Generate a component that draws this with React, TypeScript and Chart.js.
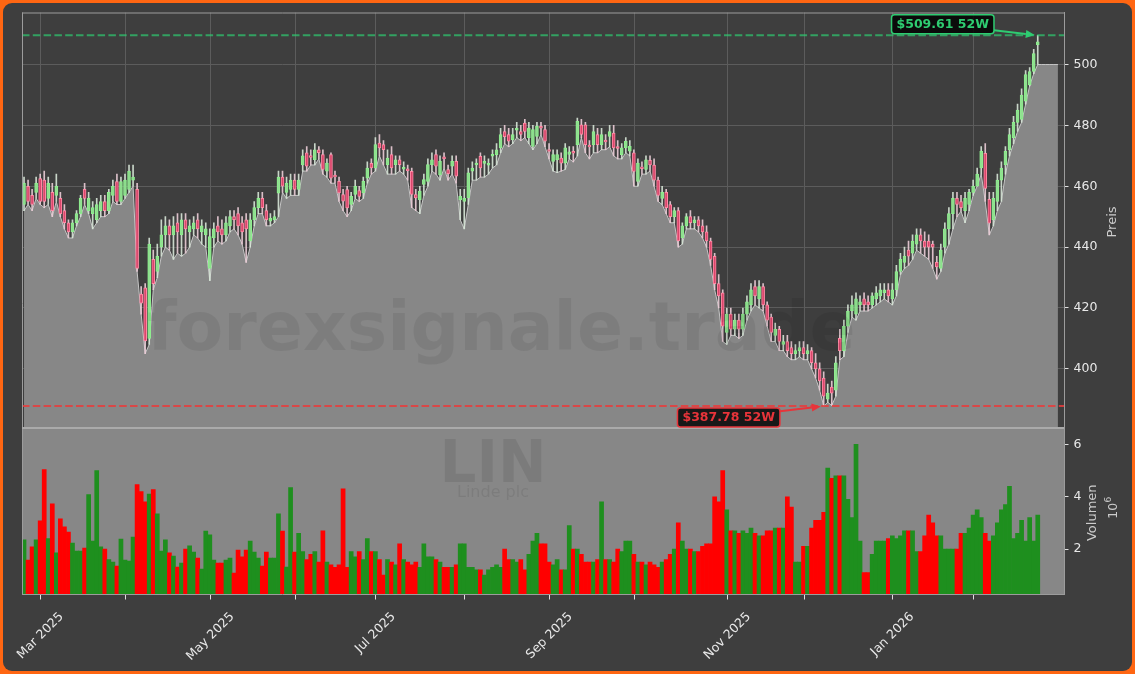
import React, { useEffect, useRef } from 'react';
import { Chart, registerables } from 'chart.js';

Chart.register(...registerables);

// ---------------- data ----------------
const START_DATE = '2025-02-25';
const HOLIDAYS = ['2025-04-18', '2025-05-26', '2025-06-19', '2025-07-04', '2025-09-01', '2025-11-27', '2025-12-25', '2026-01-01', '2026-01-19', '2026-02-16'];
const EXTRA_SLOTS = 6;
const FILL_TAIL_SLOTS = 5;
const FILL_TAIL_LEVEL = 500;
const MONTHS = ['Jan', 'Feb', 'Mar', 'Apr', 'May', 'Jun', 'Jul', 'Aug', 'Sep', 'Oct', 'Nov', 'Dec'];

const opens = [
  454, 460, 457, 458, 462.5, 462, 456, 458, 457, 456,
  452, 448, 445, 448, 451, 459, 452, 451, 449, 452,
  455, 452, 457, 461.5, 455, 457, 459, 462, 459, 424.6,
  426.6, 410, 436, 432, 440, 444, 447, 444, 448, 444,
  449, 445, 446, 449, 445, 444, 433, 443, 447, 446,
  444, 447, 450, 451, 448, 449, 442, 449, 453, 456,
  452, 448.5, 449, 457.7, 463, 458, 459, 462, 459, 467,
  471, 470, 468.7, 472, 470.4, 465, 470.4, 463.5, 461.6, 457.3,
  458.9, 454, 457.3, 458.6, 457.8, 462.7, 467.5, 466, 474.2, 473.7,
  467.1, 470.4, 467.1, 468.7, 465.8, 465.5, 464.9, 457.3, 455.6, 460.6,
  461.6, 467.1, 470.4, 463.8, 469.5, 465.5, 466.6, 468.2, 455.6, 455,
  456.2, 465, 467, 469.8, 467.5, 467, 470, 470.4, 472.6, 478,
  477, 475.3, 478.5, 478, 480.8, 476, 473.1, 476.4, 479.7, 478.6,
  472, 468.2, 468.7, 469.3, 467.6, 470.5, 471.3, 473.7, 480.2, 480.2,
  473.4, 473.7, 477, 473.7, 474.9, 476.4, 477.5, 472.9, 470.4, 472.6,
  471.5, 471, 461.6, 466.2, 465.5, 468.5, 467, 462, 456, 458,
  454, 450, 452, 443, 447, 450, 448, 449, 447, 445,
  442, 437, 428, 425, 412, 418, 413, 416, 413, 418,
  421, 427, 423, 427, 421, 417, 411, 413, 408, 409,
  407, 405, 406, 407, 405, 406, 402, 400, 397, 390,
  394, 393, 410, 406, 414, 419, 418, 421, 423, 422,
  421, 423, 424, 425, 426, 423, 426, 432, 435, 439,
  438, 441, 444, 442, 442, 441, 435, 433, 440, 446,
  451, 456, 455, 452, 454, 458, 460, 466, 470.8, 455.7,
  449, 455, 462, 467, 472, 476, 481, 482, 488, 493.4,
  497.7, 506.5,
];

const highs = [
  463, 462, 459, 463, 464, 465, 463, 461, 464, 458,
  454, 449, 449, 452, 457, 461, 458, 455, 456, 457,
  457, 459, 462, 464, 463, 464, 467, 467, 461, 427,
  428, 443, 439, 441, 449, 450, 449, 450, 451, 451,
  451, 449, 450, 451, 449, 448, 446, 448, 450, 449,
  450, 452, 452, 453, 450, 451, 451, 455, 458, 458,
  454, 451, 452, 465, 465, 463, 464, 464, 464, 472,
  473, 472, 474, 473, 472, 469, 471, 465, 463, 459,
  460, 458, 462, 460, 463, 468, 469, 476, 477, 475,
  472, 473, 470, 470, 468, 467, 466, 459, 460, 464,
  469, 471, 472, 470, 471, 467, 470, 470, 459, 459,
  466, 468, 469, 471, 470, 469, 472, 474, 479, 480,
  479, 479, 481, 480, 482, 481, 480, 481, 481, 480,
  474, 472, 472, 471, 474, 473, 473, 482.4, 482, 481,
  475, 480, 479, 479, 477, 480, 480, 475, 474, 476,
  475, 472, 469, 468, 470, 470, 469, 463, 460, 459,
  455, 453, 453, 448, 451, 452, 450, 450, 449, 447,
  443, 438, 431, 426, 420, 420, 418, 418, 420, 424,
  428, 429, 429, 428, 422, 418, 415, 414, 411, 411,
  409, 408, 409, 409, 408, 407, 405, 402, 399, 395,
  396, 404, 413, 416, 421, 424, 425, 424, 425, 424,
  425, 427, 428, 428, 428, 428, 434, 438, 440, 442,
  444, 446, 446, 445, 444, 442, 437, 441, 448, 453,
  458, 458, 457, 458, 459, 462, 466, 473, 474, 458,
  458, 464, 468, 473, 479, 483, 487, 492, 498, 499,
  505, 509.61,
];

const lows = [
  452, 454, 452, 456, 454, 453, 454, 450, 455, 450,
  446, 443, 443, 447, 450, 454, 451, 446, 448, 450,
  450, 451, 455, 454, 454, 456, 458, 460, 432, 418,
  405, 408, 426, 430, 437, 440, 439, 436, 438, 437,
  438, 440, 444, 443, 441, 440, 429, 440, 442, 441,
  442, 445, 446, 444, 441, 435, 440, 447, 451, 451,
  447, 447, 448, 450, 458, 456, 457, 457, 457, 465,
  465, 467, 467, 469, 464, 463, 461, 461, 455, 452,
  450, 452, 456, 455, 456, 461, 464, 465, 470, 467,
  464, 464, 464, 465, 464, 462, 453, 452, 451, 457,
  460, 465, 464, 462, 466, 462, 464, 461, 449, 446,
  454, 462, 462, 463, 463, 464, 466, 467, 471, 474,
  473, 474, 476, 475, 476, 474, 472, 474, 477, 473,
  469, 465, 464.5, 465, 465.5, 469, 468, 470, 476, 471,
  469, 471, 471, 472, 472, 473, 470, 469, 469, 471,
  470, 460, 460, 464, 464, 465, 460, 455, 454, 451,
  448, 448, 440, 441, 446, 446, 446, 445, 443, 440,
  434, 426, 420, 409, 408, 411, 411, 410, 411, 416,
  419, 421, 420, 419, 414, 409, 409, 406, 406, 404,
  403, 403, 404, 403, 403, 400, 397, 393, 387.78, 389,
  388, 391, 403, 404, 412, 417, 416, 419, 419, 419,
  420, 421, 422, 423, 422, 421, 424, 431, 433, 434,
  436, 439, 438, 437, 436, 433, 429.5, 432, 438, 441,
  446, 450, 451.8, 448, 452, 457, 460, 464, 455, 444,
  447, 452, 455, 464, 470, 474, 478, 481, 487, 493,
  497, 500,
];

const closes = [
  461, 455, 454, 461, 455, 455, 461, 452, 460, 451,
  448, 445, 448, 451, 456, 456, 456, 453, 454, 455,
  452, 458, 460, 455, 461.5, 462, 465, 463, 433, 421.6,
  409.2, 441, 428, 437, 444, 447, 444, 447, 445, 449,
  446, 447, 448, 446, 447, 446, 443.5, 446, 445, 444,
  448, 450, 449, 447, 445, 446, 449, 453, 456, 453,
  449, 449.5, 450, 463, 460, 461, 462, 459, 462, 470,
  466.6, 469.5, 472, 471, 465.5, 467.6, 462.7, 463.2, 457.8, 455.1,
  452.9, 456.7, 460, 456.7, 461.6, 466, 466, 473.7, 472.6, 472,
  469.3, 466, 468.7, 467.1, 466, 465.3, 457.3, 456.2, 458.4, 462.2,
  467.1, 468.7, 466.6, 468.2, 469.2, 464.1, 468.2, 463.3, 456.7, 456,
  464.4, 466, 467.6, 466, 468.2, 467.5, 470.4, 472, 477, 476.3,
  474.8, 477, 479, 477, 478, 479.1, 478.6, 479.7, 479.1, 474.8,
  471.5, 470.4, 470.4, 467.6, 472.6, 471.3, 471, 481.3, 477, 473.7,
  473, 478, 473.7, 477, 474.8, 478, 472.6, 472.6, 472.6, 474.8,
  473.1, 464.9, 467.6, 466, 468.7, 467, 462, 457, 458, 453,
  450, 452, 442, 447, 450, 448, 449, 447, 445, 442,
  436, 428, 424, 414, 418, 413, 416, 413, 418, 422,
  426, 424, 427, 421, 416, 412, 413, 409, 409, 406,
  405, 406, 407, 405, 406, 402, 400, 396, 391, 392,
  392, 402, 406, 414, 419, 421, 423, 422, 421, 421,
  424, 425, 426, 426, 424, 426, 432, 436, 437, 437,
  442, 444, 442, 440, 440, 440, 433.5, 439, 446, 451,
  456, 454, 453, 456, 458, 460, 464, 471.5, 459.3, 447.9,
  456, 462, 466, 471.5, 477, 481, 485, 490, 496.7, 497.7,
  503.6, 507.5,
];

// volume in millions of shares
const volumes = [
  2.35, 1.58, 2.08, 2.35, 3.08, 5.04, 2.4, 3.73, 1.85, 3.15,
  2.85, 2.65, 2.23, 1.92, 1.92, 2.04, 4.08, 2.3, 5.0, 2.08,
  2.0, 1.6, 1.5, 1.35, 2.38, 1.58, 1.54, 2.46, 4.46, 4.2,
  3.8, 4.1, 4.27, 3.35, 1.92, 2.35, 1.85, 1.73, 1.31, 1.46,
  2.0, 2.12, 1.88, 1.65, 1.23, 2.69, 2.54, 1.58, 1.46, 1.46,
  1.58, 1.65, 1.08, 1.96, 1.7, 1.96, 2.3, 1.88, 1.65, 1.35,
  1.88, 1.65, 1.65, 3.35, 2.69, 1.31, 4.35, 1.88, 2.6, 1.9,
  1.6, 1.8, 1.9, 1.5, 2.7, 1.5, 1.4, 1.3, 1.4, 4.3,
  1.3, 1.9, 1.7, 1.9, 1.6, 2.4, 1.9, 1.9, 1.6, 1.0,
  1.6, 1.5, 1.4, 2.2, 1.6, 1.5, 1.4, 1.5, 1.3, 2.2,
  1.7, 1.7, 1.6, 1.5, 1.3, 1.3, 1.3, 1.4, 2.2, 2.2,
  1.3, 1.3, 1.2, 1.2, 1.0, 1.2, 1.3, 1.4, 1.3, 2.0,
  1.6, 1.6, 1.5, 1.6, 1.2, 1.8, 2.3, 2.6, 2.2, 2.2,
  1.5, 1.4, 1.6, 1.2, 1.2, 2.9, 2.0, 2.0, 1.8, 1.5,
  1.5, 1.5, 1.6, 3.8, 1.6, 1.6, 1.5, 2.0, 1.9, 2.3,
  2.3, 1.8, 1.5, 1.5, 1.4, 1.5, 1.4, 1.3, 1.5, 1.6,
  1.8, 2.0, 3.0, 2.3, 2.0, 2.0, 1.9, 1.9, 2.1, 2.2,
  2.2, 4.0, 3.8, 5.0, 3.5, 2.7, 2.7, 2.6, 2.7, 2.6,
  2.8, 2.6, 2.5, 2.5, 2.7, 2.7, 2.8, 2.8, 2.8, 4.0,
  3.6, 1.5, 1.5, 2.1, 2.1, 2.8, 3.1, 3.1, 3.4, 5.1,
  4.7, 4.8, 4.8, 4.8, 3.9, 3.2, 6.0, 2.3, 1.1, 1.1,
  1.8, 2.3, 2.3, 2.3, 2.4, 2.5, 2.4, 2.5, 2.7, 2.7,
  2.7, 1.9, 1.9, 2.5, 3.3, 3.0, 2.5, 2.5, 2.0, 2.0,
  2.0, 2.0, 2.6, 2.6, 2.8, 3.3, 3.5, 3.2, 2.6, 2.3,
  2.5, 3.0, 3.5, 3.7, 4.4, 2.4, 2.6, 3.1, 2.3, 3.2,
  2.3, 3.3,
];

const PRICE_TICKS = [400, 420, 440, 460, 480, 500];
const VOLUME_TICKS = [2, 4, 6];
const PRICE_MIN = 380.75;
const PRICE_MAX = 517.1;
const VOL_MIN = 0.28;
const VOL_MAX = 6.65;
const HIGH_52W = 509.61;
const LOW_52W = 387.78;
const HIGH_LABEL = '$509.61 52W';
const LOW_LABEL = '$387.78 52W';
const TICKER = 'LIN';
const COMPANY = 'Linde plc';
const WATERMARK = 'forexsignale.trade';
const PRICE_TITLE = 'Preis';
const VOLUME_TITLE = 'Volumen';

// ---------------- styles ----------------
const FONT = '"DejaVu Sans", "Liberation Sans", sans-serif';
const BG = '#3e3e3e';
const FRAME = '#ff6612';
const FILL_GRAY = '#878787';
const GRID = '#5c5c5c';
const SPINE = '#9c9c9c';
const TICK_TEXT = '#e8e8e8';
const UP_VOL = '#1e8f1e';
const DOWN_VOL = '#ff0000';

function tradingDays(start: string, count: number, holidays: string[]): Date[] {
  const [y, m, d] = start.split('-').map(Number);
  const out: Date[] = [];
  let t = Date.UTC(y, m - 1, d);
  while (out.length < count) {
    const dt = new Date(t);
    const wd = dt.getUTCDay();
    const iso = dt.toISOString().slice(0, 10);
    if (wd !== 0 && wd !== 6 && !holidays.includes(iso)) out.push(dt);
    t += 86400000;
  }
  return out;
}

export default function App() {
  const ref = useRef<HTMLCanvasElement>(null);

  useEffect(() => {
    document.body.style.margin = '0';
    document.body.style.background = BG;
    const canvas = ref.current;
    if (!canvas) return;

    const n = closes.length;
    const dates = tradingDays(START_DATE, n + EXTRA_SLOTS, HOLIDAYS);
    const labels = dates.map((d) => d.toISOString().slice(0, 10));

    const monthTicks: { index: number; label: string }[] = [];
    for (let i = 1; i < n; i++) {
      const m = dates[i].getUTCMonth();
      if (m !== dates[i - 1].getUTCMonth()) {
        monthTicks.push({ index: i, label: m % 2 === 0 ? `${MONTHS[m]} ${dates[i].getUTCFullYear()}` : '' });
      }
    }

    const fillData: (number | null)[] = labels.map((_, i) => {
      if (i < n) return lows[i];
      if (i < n + FILL_TAIL_SLOTS) return FILL_TAIL_LEVEL;
      return null;
    });
    const wickData = labels.map((_, i) => (i < n ? [lows[i], highs[i]] : null));
    const bodyData = labels.map((_, i) => {
      if (i >= n) return null;
      const o = opens[i], c = closes[i];
      if (Math.abs(o - c) < 0.6) {
        const mid = (o + c) / 2;
        return [mid - 0.3, mid + 0.3];
      }
      return [o, c];
    });
    const isUp = labels.map((_, i) => (i < n ? closes[i] >= opens[i] : true));
    const volData = labels.map((_, i) => (i < n ? volumes[i] : null));

    const hiIdx = highs.indexOf(Math.max(...highs));
    const loIdx = lows.indexOf(Math.min(...lows));

    const drawText = (ctx: CanvasRenderingContext2D, text: string, x: number, y: number, font: string, color: string, align: CanvasTextAlign = 'center', base: CanvasTextBaseline = 'middle') => {
      ctx.font = font;
      ctx.fillStyle = color;
      ctx.textAlign = align;
      ctx.textBaseline = base;
      ctx.fillText(text, x, y);
    };

    const drawAnnotation = (ctx: CanvasRenderingContext2D, text: string, tx: number, ty: number, dx: number, dy: number, color: string) => {
      ctx.save();
      ctx.font = `bold 12.5px ${FONT}`;
      const tw = ctx.measureText(text).width;
      const cx = tx + dx, cy = ty + dy;
      const hw = tw / 2 + 5, hh = 9.5;
      const vx = tx - cx, vy = ty - cy;
      const t = Math.min(hw / Math.abs(vx || 1e-6), hh / Math.abs(vy || 1e-6));
      const sx = cx + vx * t, sy = cy + vy * t;
      const len = Math.hypot(tx - sx, ty - sy);
      const ux = (tx - sx) / len, uy = (ty - sy) / len;
      const ex = tx - ux * 3, ey = ty - uy * 3;
      const headLen = 9, headW = 4;
      ctx.strokeStyle = color;
      ctx.fillStyle = color;
      ctx.lineWidth = 2;
      ctx.beginPath();
      ctx.moveTo(sx, sy);
      ctx.lineTo(ex - ux * headLen, ey - uy * headLen);
      ctx.stroke();
      ctx.beginPath();
      ctx.moveTo(ex, ey);
      ctx.lineTo(ex - ux * headLen - uy * headW, ey - uy * headLen + ux * headW);
      ctx.lineTo(ex - ux * headLen + uy * headW, ey - uy * headLen - ux * headW);
      ctx.closePath();
      ctx.fill();
      ctx.beginPath();
      (ctx as any).roundRect(cx - hw, cy - hh, hw * 2, hh * 2, 3);
      ctx.fillStyle = 'rgba(0,0,0,0.82)';
      ctx.fill();
      ctx.lineWidth = 1.5;
      ctx.strokeStyle = color;
      ctx.stroke();
      drawText(ctx, text, cx, cy + 0.5, `bold 12.5px ${FONT}`, color);
      ctx.restore();
    };

    const decor = {
      id: 'decor',
      beforeDraw(c: any) {
        const ctx: CanvasRenderingContext2D = c.ctx;
        ctx.save();
        ctx.fillStyle = FRAME;
        ctx.fillRect(0, 0, c.width, c.height);
        ctx.fillStyle = BG;
        ctx.beginPath();
        (ctx as any).roundRect(3, 3, c.width - 6, c.height - 6, 9);
        ctx.fill();
        ctx.restore();
      },
      beforeDatasetsDraw(c: any) {
        const ctx: CanvasRenderingContext2D = c.ctx;
        const { chartArea } = c;
        const x = c.scales.x, y = c.scales.y, yv = c.scales.yv;
        ctx.save();
        ctx.strokeStyle = GRID;
        ctx.lineWidth = 1;
        for (const t of monthTicks) {
          const px = Math.round(x.getPixelForValue(t.index)) + 0.5;
          ctx.beginPath();
          ctx.moveTo(px, y.top);
          ctx.lineTo(px, y.bottom);
          ctx.stroke();
        }
        ctx.fillStyle = FILL_GRAY;
        ctx.fillRect(chartArea.left, yv.top, chartArea.right - chartArea.left, yv.bottom - yv.top);
        drawText(ctx, TICKER, 493, 482, `bold 58px ${FONT}`, 'rgba(0,0,0,0.085)', 'center', 'alphabetic');
        drawText(ctx, COMPANY, 493, 497, `16px ${FONT}`, 'rgba(0,0,0,0.08)', 'center', 'alphabetic');
        ctx.restore();
      },
      afterDatasetsDraw(c: any) {
        const ctx: CanvasRenderingContext2D = c.ctx;
        const { chartArea } = c;
        const x = c.scales.x, y = c.scales.y, yv = c.scales.yv;
        ctx.save();
        drawText(ctx, WATERMARK, 147, 350, `bold 68px ${FONT}`, 'rgba(0,0,0,0.07)', 'left', 'alphabetic');

        ctx.lineWidth = 2;
        ctx.setLineDash([7.5, 3.3]);
        const hy = y.getPixelForValue(HIGH_52W);
        ctx.strokeStyle = 'rgba(46,204,113,0.7)';
        ctx.beginPath();
        ctx.moveTo(chartArea.left, hy);
        ctx.lineTo(chartArea.right, hy);
        ctx.stroke();
        const ly = y.getPixelForValue(LOW_52W);
        ctx.strokeStyle = 'rgba(231,60,60,0.85)';
        ctx.beginPath();
        ctx.moveTo(chartArea.left, ly);
        ctx.lineTo(chartArea.right, ly);
        ctx.stroke();
        ctx.setLineDash([]);

        ctx.strokeStyle = SPINE;
        ctx.lineWidth = 1;
        ctx.beginPath();
        ctx.moveTo(chartArea.left + 0.5, y.top);
        ctx.lineTo(chartArea.left + 0.5, yv.bottom);
        ctx.moveTo(chartArea.left, y.top + 0.5);
        ctx.lineTo(chartArea.right, y.top + 0.5);
        ctx.moveTo(chartArea.left, yv.bottom + 0.5);
        ctx.lineTo(chartArea.right, yv.bottom + 0.5);
        ctx.stroke();
        ctx.strokeStyle = '#aaaaaa';
        ctx.lineWidth = 2;
        ctx.beginPath();
        ctx.moveTo(chartArea.left, yv.top + 0.5);
        ctx.lineTo(chartArea.right, yv.top + 0.5);
        ctx.stroke();

        drawAnnotation(ctx, HIGH_LABEL, x.getPixelForValue(hiIdx), y.getPixelForValue(HIGH_52W), -95, -11, '#2ecc71');
        drawAnnotation(ctx, LOW_LABEL, x.getPixelForValue(loIdx), y.getPixelForValue(LOW_52W), -95, 11.5, '#e8343a');

        ctx.strokeStyle = '#e0e0e0';
        ctx.lineWidth = 1;
        const labelFont = `12.5px ${FONT}`;
        for (const t of monthTicks) {
          const px = Math.round(x.getPixelForValue(t.index)) + 0.5;
          ctx.beginPath();
          ctx.moveTo(px, yv.bottom + 1);
          ctx.lineTo(px, yv.bottom + 5.5);
          ctx.stroke();
          if (t.label) {
            ctx.font = labelFont;
            const w = ctx.measureText(t.label).width;
            const h = 14;
            const cy = yv.bottom + 16 + (w + h) / (2 * Math.SQRT2);
            ctx.save();
            ctx.translate(px, cy);
            ctx.rotate(-Math.PI / 4);
            drawText(ctx, t.label, 0, 0, labelFont, TICK_TEXT);
            ctx.restore();
          }
        }

        const titleFont = `13px ${FONT}`;
        ctx.save();
        ctx.translate(1113, (y.top + y.bottom) / 2 + 2);
        ctx.rotate(-Math.PI / 2);
        drawText(ctx, PRICE_TITLE, 0, 0, titleFont, '#cccccc');
        ctx.restore();
        ctx.save();
        ctx.translate(1093, (yv.top + yv.bottom) / 2 + 2);
        ctx.rotate(-Math.PI / 2);
        drawText(ctx, VOLUME_TITLE, 0, 0, titleFont, '#cccccc');
        ctx.restore();
        ctx.save();
        ctx.translate(1114, (yv.top + yv.bottom) / 2 - 3);
        ctx.rotate(-Math.PI / 2);
        drawText(ctx, '10', -3, 0, `12.5px ${FONT}`, '#cccccc');
        drawText(ctx, '6', 8, -5, `9px ${FONT}`, '#cccccc');
        ctx.restore();

        ctx.restore();
      },
    };

    const chart = new Chart(canvas, {
      type: 'bar',
      data: {
        labels,
        datasets: [
          {
            type: 'line',
            label: 'lows',
            data: fillData as any,
            yAxisID: 'y',
            borderColor: '#c6c6c6',
            borderWidth: 1,
            pointRadius: 0,
            fill: 'start',
            backgroundColor: FILL_GRAY,
            tension: 0,
            order: 5,
          } as any,
          {
            type: 'bar',
            label: 'wick',
            data: wickData as any,
            yAxisID: 'y',
            backgroundColor: isUp.map((u) => (u ? 'rgba(215,230,215,0.9)' : 'rgba(235,205,215,0.9)')),
            barThickness: 1,
            grouped: false,
            order: 3,
          } as any,
          {
            type: 'bar',
            label: 'body',
            data: bodyData as any,
            yAxisID: 'y',
            backgroundColor: isUp.map((u) => (u ? 'rgba(120,200,120,0.35)' : '#d9466b')),
            borderColor: isUp.map((u) => (u ? '#90ee90' : '#ff8aa5')),
            borderWidth: 1,
            borderSkipped: false,
            barThickness: 3,
            grouped: false,
            order: 2,
          } as any,
          {
            type: 'bar',
            label: 'volume',
            data: volData as any,
            yAxisID: 'yv',
            backgroundColor: isUp.map((u) => (u ? UP_VOL : DOWN_VOL)),
            barPercentage: 1,
            categoryPercentage: 1,
            grouped: false,
            order: 1,
          } as any,
        ],
      },
      options: {
        responsive: false,
        animation: false,
        events: [],
        layout: { padding: { left: 22, top: 11, right: 0, bottom: 80 } },
        plugins: { legend: { display: false }, tooltip: { enabled: false } },
        scales: {
          x: { display: false, offset: true, grid: { display: false } },
          y: {
            position: 'right',
            stack: 'panels',
            stackWeight: 416,
            min: PRICE_MIN,
            max: PRICE_MAX,
            afterBuildTicks: (s: any) => { s.ticks = PRICE_TICKS.map((v) => ({ value: v })); },
            afterFit: (s: any) => { s.width = 71; },
            grid: { color: GRID, lineWidth: 1, tickColor: '#e0e0e0', tickLength: 4.5, drawTicks: true },
            border: { display: true, color: SPINE },
            ticks: { color: TICK_TEXT, font: { family: FONT, size: 12.5 }, padding: 5 },
          },
          yv: {
            position: 'right',
            stack: 'panels',
            stackWeight: 167,
            min: VOL_MIN,
            max: VOL_MAX,
            afterBuildTicks: (s: any) => { s.ticks = VOLUME_TICKS.map((v) => ({ value: v })); },
            afterFit: (s: any) => { s.width = 71; },
            grid: { drawOnChartArea: false, tickColor: '#e0e0e0', tickLength: 4.5, drawTicks: true },
            border: { display: true, color: SPINE },
            ticks: { color: TICK_TEXT, font: { family: FONT, size: 12.5 }, padding: 5 },
          },
        },
      } as any,
      plugins: [decor],
    });

    return () => chart.destroy();
  }, []);

  return (
    <div style={{ width: 1135, height: 674, position: 'relative' }}>
      <canvas ref={ref} width={1135} height={674} style={{ display: 'block', width: 1135, height: 674 }} />
    </div>
  );
}
